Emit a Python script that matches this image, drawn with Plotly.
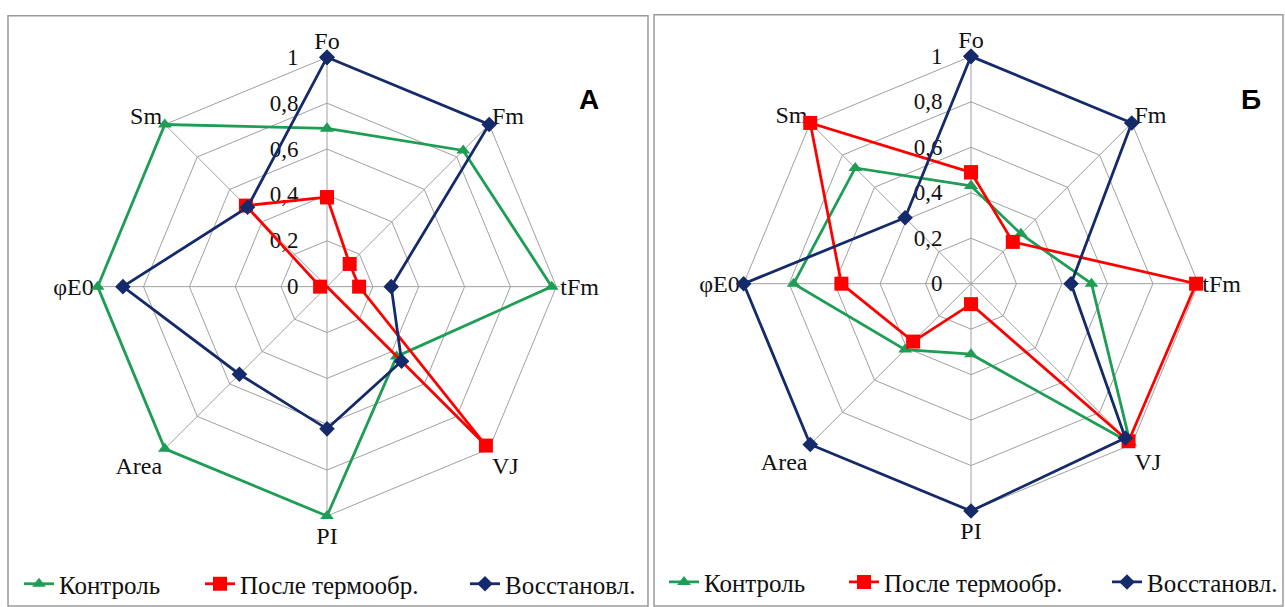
import plotly.graph_objects as go

categories = ["Fo", "Fm", "tFm", "VJ", "PI", "Area", "φE0", "Sm"]
series_names = ["Контроль", "После термообр.", "Восстановл."]

# Panel A
a_control = [0.69, 0.84, 0.98, 0.43, 1.0, 1.0, 1.0, 1.0]
a_heat = [0.39, 0.14, 0.14, 0.98, 0.0, 0.0, 0.03, 0.50]
a_restored = [1.0, 1.0, 0.28, 0.46, 0.62, 0.54, 0.89, 0.49]

# Panel Б
b_control = [0.43, 0.31, 0.53, 0.99, 0.31, 0.41, 0.78, 0.72]
b_heat = [0.49, 0.26, 0.99, 0.98, 0.09, 0.36, 0.57, 1.0]
b_restored = [1.0, 1.0, 0.44, 0.96, 1.0, 1.0, 1.0, 0.41]

radial_ticks = [0, 0.2, 0.4, 0.6, 0.8, 1]
radial_ticktext = ["0", "0,2", "0,4", "0,6", "0,8", "1"]

colors = ["#1E9E55", "#FF0000", "#152A6B"]
symbols = ["triangle-up", "square", "diamond"]
msizes = [12, 14, 12]

W, H = 1285, 607
serif = "Liberation Serif"
RMAX = 1.015  # small headroom so outer-ring lines are not clipped

# legend text start positions (px) for each panel / series
legend_text_x = [[59, 240, 505], [704, 884, 1147]]
legend_text_y = [591, 589]

fig = go.Figure()

panels = [
    ("polar", [a_control, a_heat, a_restored]),
    ("polar2", [b_control, b_heat, b_restored]),
]
legend_layouts = {}
k = 0
for p, (polar, data) in enumerate(panels):
    for i, vals in enumerate(data):
        k += 1
        lname = "legend" if k == 1 else f"legend{k}"
        fig.add_trace(go.Scatterpolar(
            r=vals + vals[:1],
            theta=categories + categories[:1],
            mode="lines+markers",
            name=series_names[i],
            subplot=polar,
            legend=lname,
            showlegend=True,
            cliponaxis=False,
            line=dict(color=colors[i], width=2.8),
            marker=dict(symbol=symbols[i], size=msizes[i], color=colors[i]),
        ))
        legend_layouts[lname] = dict(
            orientation="h",
            font=dict(family=serif, size=25, color="#111"),
            bgcolor="rgba(0,0,0,0)",
            yanchor="middle",
            xanchor="left",
            itemwidth=30,
            x=(legend_text_x[p][i] - 40) / W,
            y=(H - legend_text_y[p]) / H,
        )


def polar_layout(cx, cy, R):
    Rd = R * RMAX
    x0 = (cx - Rd) / W
    x1 = (cx + Rd) / W
    y0 = (H - cy - Rd) / H
    y1 = (H - cy + Rd) / H
    return dict(
        domain=dict(x=[x0, x1], y=[y0, y1]),
        bgcolor="white",
        gridshape="linear",
        radialaxis=dict(
            range=[0, RMAX],
            tickvals=radial_ticks,
            ticktext=radial_ticktext,
            angle=90,
            tickangle=90,
            side="counterclockwise",
            showline=False,
            ticks="outside",
            ticklen=20,
            tickcolor="rgba(0,0,0,0)",
            gridcolor="#A0A0A0",
            gridwidth=1,
            tickfont=dict(family=serif, size=23, color="#111"),
            layer="below traces",
        ),
        angularaxis=dict(
            categoryorder="array",
            categoryarray=categories,
            rotation=90,
            direction="clockwise",
            gridcolor="#A0A0A0",
            showline=False,
            ticks="",
            tickfont=dict(family=serif, size=24, color="#111"),
            layer="below traces",
        ),
    )


fig.update_layout(
    width=W,
    height=H,
    margin=dict(l=0, r=0, t=0, b=0),
    paper_bgcolor="white",
    plot_bgcolor="white",
    showlegend=True,
    polar=polar_layout(327, 290, 232),
    polar2=polar_layout(971, 287, 230),
    shapes=[
        dict(type="rect", xref="paper", yref="paper",
             x0=8 / W, x1=648 / W, y0=-0.01, y1=(H - 16) / H,
             line=dict(color="#9A9A9A", width=1.5)),
        dict(type="rect", xref="paper", yref="paper",
             x0=654 / W, x1=1283 / W, y0=-0.01, y1=(H - 15) / H,
             line=dict(color="#9A9A9A", width=1.5)),
    ],
    annotations=[
        dict(text="<b>A</b>", x=589 / W, y=(H - 101) / H, xref="paper", yref="paper",
             xanchor="center", yanchor="middle",
             showarrow=False, font=dict(family="Liberation Sans", size=28, color="black")),
        dict(text="<b>Б</b>", x=1251 / W, y=(H - 101) / H, xref="paper", yref="paper",
             xanchor="center", yanchor="middle",
             showarrow=False, font=dict(family="Liberation Sans", size=28, color="black")),
    ],
    **legend_layouts,
)

fig.write_html("out.html")
